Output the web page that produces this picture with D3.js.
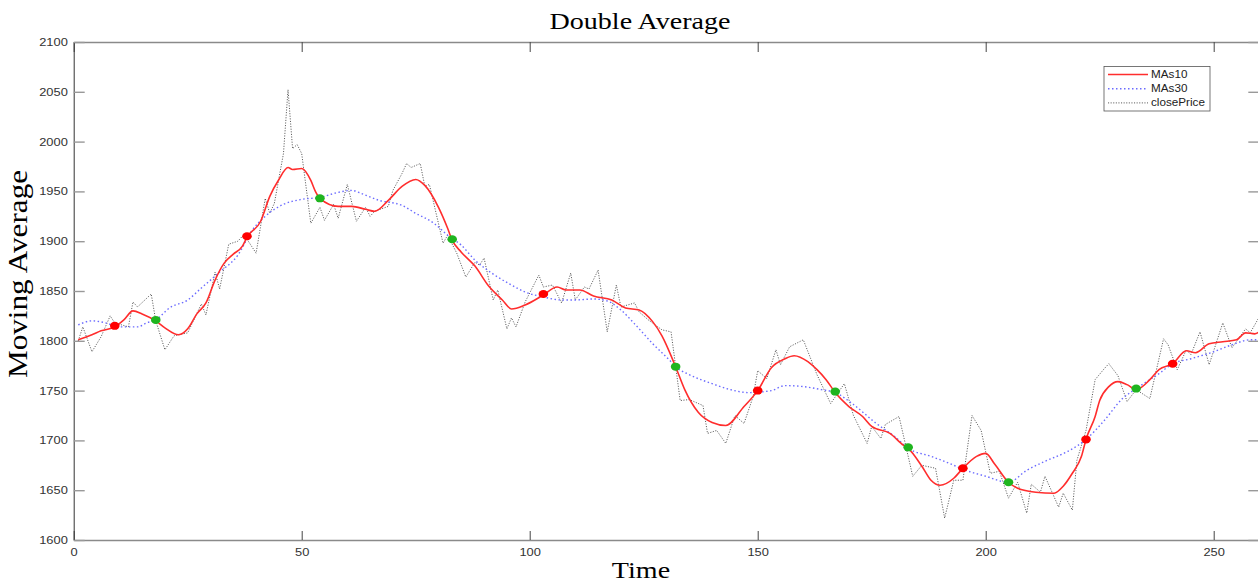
<!DOCTYPE html>
<html lang="en">
<head>
<meta charset="UTF-8" />
<title>Double Average</title>
<script src="https://d3js.org/d3.v7.min.js"></script>
<style>
  body { margin: 0; background: #fff; }
  .tick text { font-family: "Liberation Sans", Arial, sans-serif; font-size: 11px; fill: #333; }
  .leg text { font-family: "Liberation Sans", Arial, sans-serif; font-size: 10px; fill: #222; }
  .lbl { font-family: "Liberation Serif", "Times New Roman", serif; font-size: 24px; fill: #000; }
</style>
</head>
<body>
<div class="chart"></div>
<script>
// closing price (day, value)
var closeDays = [1, 2, 4, 6, 8, 9, 12, 13, 14, 17, 18, 20, 22, 25, 28, 29, 31, 32, 34, 36,
  37, 38, 40, 42, 43, 44, 46, 47, 48, 49, 50, 52, 54, 55, 57, 58, 60, 62, 64, 65,
  66, 69, 70, 72, 73, 74, 76, 77, 78, 81, 82, 84, 86, 88, 89, 90, 92, 93, 95, 96,
  97, 99, 102, 103, 105, 107, 109, 110, 112, 113, 115, 117, 119, 120, 123, 124, 126, 129, 131, 133,
  135, 138, 139, 141, 143, 145, 147, 149, 150, 152, 154, 155, 157, 160, 163, 166, 169, 171, 174, 175,
  177, 178, 181, 184, 186, 189, 191, 193, 195, 197, 199, 201, 203, 205, 207, 209, 210, 212, 213, 216,
  217, 219, 220, 222, 224, 226, 227, 229, 231, 233, 236, 239, 240, 242, 244, 245, 247, 249, 252, 254,
  257, 258, 260];
var closePrice = [1800, 1814, 1789, 1804, 1825, 1818, 1814, 1839, 1834, 1847, 1820, 1791, 1805, 1808, 1837, 1826, 1869, 1852, 1897, 1900,
  1905, 1902, 1888, 1943, 1928, 1938, 1988, 2052, 1993, 1997, 1988, 1918, 1934, 1921, 1937, 1923, 1957, 1920, 1934, 1925,
  1930, 1935, 1951, 1968, 1978, 1974, 1978, 1955, 1957, 1898, 1906, 1888, 1864, 1879, 1876, 1883, 1841, 1851, 1812, 1823,
  1814, 1839, 1866, 1854, 1856, 1838, 1868, 1841, 1854, 1852, 1871, 1809, 1856, 1834, 1838, 1829, 1821, 1811, 1809, 1740,
  1741, 1735, 1707, 1710, 1697, 1725, 1717, 1744, 1770, 1762, 1791, 1776, 1794, 1801, 1766, 1737, 1757, 1725, 1697, 1714,
  1702, 1716, 1724, 1664, 1675, 1672, 1622, 1660, 1660, 1725, 1710, 1667, 1669, 1642, 1658, 1627, 1656, 1648, 1664, 1633,
  1647, 1630, 1680, 1710, 1761, 1772, 1777, 1765, 1739, 1751, 1742, 1802, 1796, 1771, 1791, 1786, 1809, 1776, 1818, 1793,
  1812, 1808, 1824];

// 10-day moving average
var ma10Days = [1, 4, 6, 9, 11, 13, 15, 18, 20, 23, 25, 27, 29, 31, 33, 35, 37, 38, 41, 43,
  45, 47, 48, 50, 52, 53, 54, 58, 61, 64, 66, 69, 72, 75, 77, 80, 82, 83, 85, 88,
  91, 94, 96, 99, 103, 106, 108, 111, 114, 118, 121, 124, 127, 129, 132, 134, 137, 140, 143, 147,
  150, 153, 156, 158, 161, 163, 165, 167, 170, 173, 175, 179, 182, 183, 186, 188, 190, 193, 195, 198,
  200, 202, 205, 207, 211, 215, 217, 219, 221, 222, 224, 225, 227, 229, 231, 233, 236, 238, 241, 244,
  246, 249, 252, 255, 257, 259, 260];
var ma10 = [1801, 1806, 1810, 1814, 1821, 1830, 1827, 1820, 1813, 1806, 1812, 1827, 1838, 1861, 1878, 1887, 1895, 1904, 1920, 1945,
  1962, 1974, 1972, 1973, 1961, 1950, 1943, 1935, 1935, 1932, 1930, 1941, 1955, 1962, 1956, 1934, 1913, 1901, 1889, 1875,
  1855, 1841, 1832, 1836, 1846, 1854, 1851, 1851, 1845, 1841, 1833, 1831, 1819, 1805, 1774, 1751, 1728, 1718, 1715, 1734,
  1750, 1773, 1782, 1785, 1779, 1771, 1761, 1748, 1734, 1724, 1714, 1707, 1695, 1692, 1674, 1660, 1655, 1662, 1672, 1684,
  1687, 1676, 1658, 1652, 1648, 1647, 1654, 1667, 1684, 1701, 1724, 1740, 1754, 1759, 1756, 1751, 1761, 1771, 1777, 1790,
  1788, 1797, 1799, 1801, 1808, 1807, 1809];

// 30-day moving average
var ma30Days = [1, 4, 7, 10, 14, 16, 18, 21, 25, 28, 32, 36, 39, 42, 46, 50, 54, 58, 61, 63,
  67, 72, 75, 79, 82, 85, 88, 92, 96, 99, 103, 107, 110, 114, 117, 120, 123, 127, 131, 132,
  135, 140, 144, 148, 153, 156, 160, 164, 167, 171, 176, 180, 183, 188, 192, 195, 200, 205, 209, 213,
  218, 222, 226, 230, 233, 238, 241, 245, 250, 254, 258, 260];
var ma30 = [1816, 1820, 1818, 1814, 1814, 1818, 1821, 1833, 1841, 1853, 1869, 1886, 1910, 1925, 1937, 1942, 1944, 1949, 1951, 1948,
  1941, 1936, 1928, 1918, 1906, 1896, 1881, 1867, 1856, 1849, 1844, 1841, 1841, 1842, 1840, 1831, 1817, 1797, 1779, 1774,
  1766, 1757, 1751, 1748, 1750, 1755, 1754, 1751, 1748, 1736, 1717, 1704, 1692, 1684, 1677, 1671, 1664, 1658, 1670, 1679,
  1689, 1701, 1720, 1742, 1752, 1767, 1777, 1782, 1789, 1796, 1801, 1801];

// crossing points
var redDays = [9, 38, 103, 150, 195, 222, 241];
var redPrice = [1815, 1905, 1847, 1750, 1672, 1701, 1777];
var greenDays = [18, 54, 83, 132, 167, 183, 205, 233];
var greenPrice = [1821, 1943, 1902, 1774, 1749, 1693, 1658, 1752];

var xTicks = [0, 50, 100, 150, 200, 250];
var yTicks = [1600, 1650, 1700, 1750, 1800, 1850, 1900, 1950, 2000, 2050, 2100];
var legendNames = ["MAs10", "MAs30", "closePrice"];

var w = 1258, h = 583;
var sx = 1.17; // figure was stretched sideways

var svg = d3.select(".chart").append("svg")
  .attr("width", w)
  .attr("height", h);

var x = d3.scaleLinear().domain([0, 260]).range([73.7, 1259.3]);
var y = d3.scaleLinear().domain([1600, 2100]).range([540, 42]);

// axes (MATLAB box with inward ticks)
var gB = svg.append("g").attr("transform", "translate(0,540)")
  .call(d3.axisBottom(x).tickValues(xTicks).tickFormat(d3.format("d"))
    .tickSizeInner(-9).tickSizeOuter(0).tickPadding(8));
var gT = svg.append("g").attr("transform", "translate(0,42)")
  .call(d3.axisTop(x).tickValues(xTicks).tickFormat("").tickSizeInner(-10).tickSizeOuter(0));
var gL = svg.append("g").attr("transform", "translate(73.7,0)")
  .call(d3.axisLeft(y).tickValues(yTicks).tickFormat(d3.format("d"))
    .tickSizeInner(-11).tickSizeOuter(0).tickPadding(5));
var gR = svg.append("g").attr("transform", "translate(1259.3,0)")
  .call(d3.axisRight(y).tickValues(yTicks).tickFormat("").tickSizeInner(-11).tickSizeOuter(0));

[gB, gT].forEach(function(g) {
  g.select(".domain").attr("stroke", "#8a8a8a").attr("stroke-width", 1.4);
  g.selectAll(".tick line").attr("stroke", "#444").attr("stroke-width", 1);
});
[gL, gR].forEach(function(g) {
  g.select(".domain").attr("stroke", "#333").attr("stroke-width", 1);
  g.selectAll(".tick line").attr("stroke", "#999").attr("stroke-width", 1.4);
});
svg.selectAll(".tick text").attr("transform", "scale(" + sx + ",1)");

// lines
var closeLine = d3.line()
  .x(function(d, i) { return x(closeDays[i]); })
  .y(function(d) { return y(d); });
var ma10Line = d3.line()
  .x(function(d, i) { return x(ma10Days[i]); })
  .y(function(d) { return y(d); })
  .curve(d3.curveMonotoneX);
var ma30Line = d3.line()
  .x(function(d, i) { return x(ma30Days[i]); })
  .y(function(d) { return y(d); })
  .curve(d3.curveMonotoneX);

svg.append("path").datum(closePrice)
  .attr("d", closeLine)
  .attr("fill", "none")
  .attr("stroke", "#4a4a4a")
  .attr("stroke-width", 0.9)
  .attr("stroke-dasharray", "1.1,1.5");

svg.append("path").datum(ma30)
  .attr("d", ma30Line)
  .attr("fill", "none")
  .attr("stroke", "#6b6bff")
  .attr("stroke-width", 1.4)
  .attr("stroke-dasharray", "1.5,2.5");

svg.append("path").datum(ma10)
  .attr("d", ma10Line)
  .attr("fill", "none")
  .attr("stroke", "#ff2d2d")
  .attr("stroke-width", 1.6);

// crossing markers
svg.selectAll("ellipse.red")
  .data(redPrice)
  .enter()
  .append("ellipse")
  .attr("class", "red")
  .attr("cx", function(d, i) { return x(redDays[i]); })
  .attr("cy", function(d) { return y(d); })
  .attr("rx", 4.8)
  .attr("ry", 4)
  .attr("fill", "#ff0000");

svg.selectAll("ellipse.green")
  .data(greenPrice)
  .enter()
  .append("ellipse")
  .attr("class", "green")
  .attr("cx", function(d, i) { return x(greenDays[i]); })
  .attr("cy", function(d) { return y(d); })
  .attr("rx", 4.8)
  .attr("ry", 4)
  .attr("fill", "#1fb51f");

// legend
var leg = svg.append("g").attr("class", "leg");
leg.append("rect")
  .attr("x", 1104).attr("y", 66.5)
  .attr("width", 106).attr("height", 44.5)
  .attr("fill", "#fff")
  .attr("stroke", "#555")
  .attr("stroke-width", 0.8);
var legStyles = [
  { color: "#ff2d2d", dash: null, width: 1.6 },
  { color: "#6b6bff", dash: "1.5,2.5", width: 1.4 },
  { color: "#4a4a4a", dash: "1.1,1.5", width: 0.9 }
];
legendNames.forEach(function(name, i) {
  var ly = 74.5 + i * 14.2;
  leg.append("line")
    .attr("x1", 1108).attr("x2", 1148)
    .attr("y1", ly).attr("y2", ly)
    .attr("stroke", legStyles[i].color)
    .attr("stroke-width", legStyles[i].width)
    .attr("stroke-dasharray", legStyles[i].dash);
  leg.append("text")
    .attr("transform", "translate(1151," + ly + ") scale(" + sx + ",1)")
    .attr("dy", "0.35em")
    .text(name);
});

// title and axis labels
svg.append("text").attr("class", "lbl")
  .attr("text-anchor", "middle")
  .attr("transform", "translate(640,29) scale(" + sx + ",1)")
  .text("Double Average");
svg.append("text").attr("class", "lbl")
  .attr("text-anchor", "middle")
  .attr("transform", "translate(641,578) scale(" + sx + ",1)")
  .text("Time");
svg.append("text").attr("class", "lbl")
  .attr("text-anchor", "middle")
  .attr("transform", "translate(27,274) rotate(-90) scale(1.3," + sx + ")")
  .text("Moving Average");
</script>
</body>
</html>
